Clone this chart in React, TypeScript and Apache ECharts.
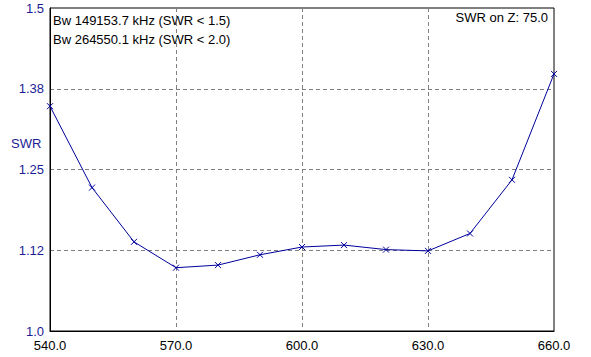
import React, { useEffect, useRef } from "react";
import * as echarts from "echarts";

const freqs = [540, 550, 560, 570, 580, 590, 600, 610, 620, 630, 640, 650, 660];
const swr = [1.348, 1.222, 1.138, 1.098, 1.102, 1.118, 1.130, 1.133, 1.126, 1.124, 1.151, 1.234, 1.398];
const yTickValues = [1.0, 1.125, 1.25, 1.375, 1.5];
const yTickLabels = ["1.0", "1.12", "1.25", "1.38", "1.5"];
const infoLines = ["Bw 149153.7 kHz (SWR < 1.5)", "Bw 264550.1 kHz (SWR < 2.0)"];
const zLabel = "SWR on Z: 75.0";
const yName = "SWR";

export default function App() {
  const ref = useRef<HTMLDivElement>(null);
  useEffect(() => {
    if (!ref.current) return;
    document.body.style.margin = "0";
    const chart = echarts.init(ref.current, undefined, { renderer: "svg" });
    const font = "Liberation Sans, Arial, sans-serif";
    chart.setOption({
      animation: false,
      backgroundColor: "#ffffff",
      grid: {
        left: 50,
        right: 37,
        top: 8,
        bottom: 26,
        show: true,
        borderColor: "#000000",
        borderWidth: 1,
        backgroundColor: "transparent",
      },
      xAxis: {
        type: "value",
        min: 540,
        max: 660,
        interval: 30,
        axisLine: { show: true, lineStyle: { color: "#000000", width: 1 } },
        axisTick: { show: false },
        axisLabel: {
          color: "#000000",
          fontFamily: font,
          fontSize: 13,
          margin: 8,
          formatter: (v: number) => v.toFixed(1),
        },
        splitLine: { show: true, lineStyle: { color: "#808080", type: [4, 3], width: 1 } },
      },
      yAxis: {
        type: "value",
        min: 1.0,
        max: 1.5,
        interval: 0.125,
        axisLine: { show: true, lineStyle: { color: "#000000", width: 1 } },
        axisTick: { show: false },
        axisLabel: {
          color: "#1c1c96",
          fontFamily: font,
          fontSize: 13,
          margin: 6,
          formatter: (v: number) => {
            const i = yTickValues.findIndex((t) => Math.abs(t - v) < 1e-6);
            return i >= 0 ? yTickLabels[i] : "";
          },
        },
        splitLine: { show: true, lineStyle: { color: "#808080", type: [4, 3], width: 1 } },
      },
      graphic: [
        {
          type: "text",
          left: 11,
          top: 137,
          style: { text: yName, fill: "#1c1c96", font: `13px ${font}` },
        },
        {
          type: "text",
          left: 53,
          top: 11,
          style: { text: infoLines.join("\n"), fill: "#000000", font: `13px ${font}`, lineHeight: 19 },
        },
        {
          type: "text",
          right: 43,
          top: 11,
          style: { text: zLabel, fill: "#000000", font: `13px ${font}` },
        },
      ],
      series: [
        {
          type: "line",
          data: freqs.map((f, i) => [f, swr[i]]),
          lineStyle: { color: "#00009c", width: 1 },
          symbol: "path://M0,0L10,10M10,0L0,10",
          symbolSize: 6,
          showAllSymbol: true,
          itemStyle: { color: "transparent", borderColor: "#00009c", borderWidth: 1 },
        },
      ],
    });
    return () => chart.dispose();
  }, []);
  return <div ref={ref} style={{ width: 591, height: 357 }} />;
}
